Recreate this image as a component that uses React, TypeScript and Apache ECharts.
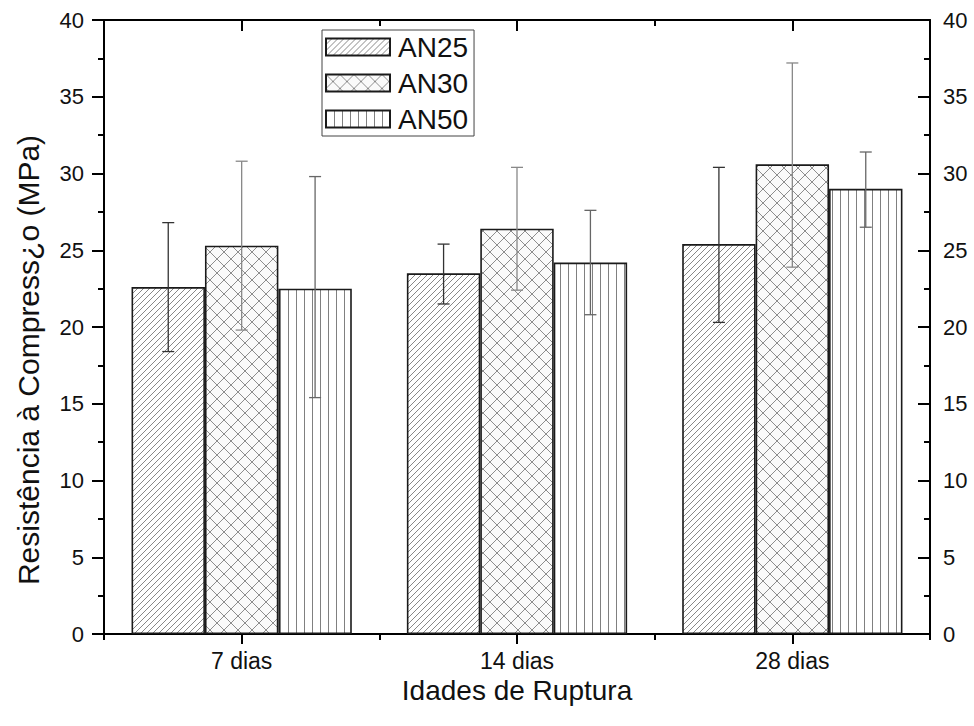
import React, { useEffect, useRef } from "react";
import * as echarts from "echarts";

const categories = ["7 dias", "14 dias", "28 dias"];
const seriesNames = ["AN25", "AN30", "AN50"];
const an25 = [22.6, 23.5, 25.4];
const an30 = [25.3, 26.4, 30.6];
const an50 = [22.5, 24.2, 29.0];
const an25Low = [18.4, 21.5, 20.3];
const an25High = [26.8, 25.4, 30.4];
const an30Low = [19.8, 22.4, 23.9];
const an30High = [30.8, 30.4, 37.2];
const an50Low = [15.4, 20.8, 26.5];
const an50High = [29.8, 27.6, 31.4];
const yTicks = [0, 5, 10, 15, 20, 25, 30, 35, 40];

const FONT = "'Liberation Sans', Arial, sans-serif";

function makePattern(kind: string) {
  const c = document.createElement("canvas");
  let w = 6, h = 6;
  if (kind === "cross") { w = 14; h = 14; }
  if (kind === "vert") { w = 8; h = 8; }
  c.width = w; c.height = h;
  const ctx = c.getContext("2d")!;
  ctx.fillStyle = "#ffffff";
  ctx.fillRect(0, 0, w, h);
  ctx.lineWidth = 0.9;
  if (kind === "diag") {
    ctx.strokeStyle = "#7a7a7a";
    ctx.beginPath();
    ctx.moveTo(-1, h + 1); ctx.lineTo(w + 1, -1);
    ctx.moveTo(-2, 1); ctx.lineTo(1, -2);
    ctx.moveTo(w - 1, h + 2); ctx.lineTo(w + 2, h - 1);
    ctx.stroke();
  } else if (kind === "cross") {
    ctx.fillStyle = "#fafafa";
    ctx.fillRect(0, 0, w, h);
    ctx.strokeStyle = "#808080";
    ctx.beginPath();
    ctx.moveTo(-1, -1); ctx.lineTo(w + 1, h + 1);
    ctx.moveTo(-1, h + 1); ctx.lineTo(w + 1, -1);
    ctx.stroke();
  } else {
    ctx.fillStyle = "#808080";
    ctx.fillRect(0, 0, 1, h);
  }
  return { image: c, repeat: "repeat", imageWidth: w, imageHeight: h } as any;
}

export default function App() {
  const ref = useRef<HTMLDivElement>(null);
  useEffect(() => {
    if (!ref.current) return;
    const chart = echarts.init(ref.current, undefined, { renderer: "svg" });
    const values = [an25, an30, an50];
    const lows = [an25Low, an30Low, an50Low];
    const highs = [an25High, an30High, an50High];
    const patterns = [makePattern("diag"), makePattern("cross"), makePattern("vert")];
    const errColors = ["#333333", "#888888", "#666666"];

    const barSeries = seriesNames.map((name, k) => ({
      name,
      type: "bar",
      xAxisIndex: 0,
      yAxisIndex: 0,
      data: values[k],
      barGap: "0%",
      barCategoryGap: "20%",
      itemStyle: { color: patterns[k], borderColor: "#1a1a1a", borderWidth: 1.6 },
      emphasis: { disabled: true },
      z: 2,
    }));

    const errSeries = seriesNames.map((name, k) => ({
      name: name + " erro",
      type: "custom",
      xAxisIndex: 0,
      yAxisIndex: 0,
      z: 5,
      encode: { x: 0, y: [1, 2] },
      data: categories.map((_, i) => [i, lows[k][i], highs[k][i]]),
      renderItem: (params: any, api: any) => {
        const xi = api.value(0);
        const lo = api.coord([xi, api.value(1)]);
        const hi = api.coord([xi, api.value(2)]);
        const band = api.size([1, 0])[0];
        const bw = (band * 0.8) / 3;
        const x = lo[0] + (k - 1) * bw;
        const cap = 6;
        const style = { stroke: errColors[k], lineWidth: 1.3 };
        return {
          type: "group",
          children: [
            { type: "line", shape: { x1: x, y1: hi[1], x2: x, y2: lo[1] }, style },
            { type: "line", shape: { x1: x - cap, y1: hi[1], x2: x + cap, y2: hi[1] }, style },
            { type: "line", shape: { x1: x - cap, y1: lo[1], x2: x + cap, y2: lo[1] }, style },
          ],
        };
      },
    }));

    const axisLine = { show: true, lineStyle: { color: "#000", width: 2 } };
    const tickLine = { color: "#000", width: 2 };

    chart.setOption({
      animation: false,
      backgroundColor: "#ffffff",
      textStyle: { fontFamily: FONT },
      grid: { left: 104, right: 44, top: 20, bottom: 92 },
      legend: {
        data: seriesNames,
        orient: "vertical",
        left: 322,
        top: 30,
        icon: "rect",
        itemWidth: 64,
        itemHeight: 17,
        itemGap: 8,
        borderColor: "#444",
        borderWidth: 1,
        padding: [3, 6, 3, 3],
        textStyle: { fontSize: 28, lineHeight: 28, color: "#111", fontFamily: FONT, padding: [0, 0, 0, 3] },
      },
      xAxis: [
        {
          type: "category",
          data: categories,
          position: "bottom",
          axisLine,
          axisTick: { show: true, alignWithLabel: true, length: 10, lineStyle: tickLine },
          axisLabel: { fontSize: 23, margin: 15, color: "#111", fontFamily: FONT },
          name: "Idades de Ruptura",
          nameLocation: "middle",
          nameGap: 42,
          nameTextStyle: { fontSize: 28, color: "#111", fontFamily: FONT },
          splitLine: { show: false },
        },
        {
          type: "category",
          data: categories,
          position: "bottom",
          axisLine: { show: false },
          axisTick: { show: true, alignWithLabel: false, length: 6, lineStyle: tickLine },
          axisLabel: { show: false },
          splitLine: { show: false },
        },
        {
          type: "category",
          data: categories,
          position: "top",
          axisLine,
          axisTick: { show: true, inside: true, alignWithLabel: true, length: 11, lineStyle: tickLine },
          axisLabel: { show: false },
          splitLine: { show: false },
        },
        {
          type: "category",
          data: categories,
          position: "top",
          axisLine: { show: false },
          axisTick: { show: true, inside: true, alignWithLabel: false, length: 6, lineStyle: tickLine },
          axisLabel: { show: false },
          splitLine: { show: false },
        },
      ],
      yAxis: [
        {
          type: "value",
          position: "left",
          min: yTicks[0],
          max: yTicks[yTicks.length - 1],
          interval: 5,
          axisLine,
          axisTick: { show: true, length: 12, lineStyle: tickLine },
          minorTick: { show: true, splitNumber: 2, length: 6, lineStyle: tickLine },
          axisLabel: { fontSize: 22, margin: 20, color: "#111", fontFamily: FONT },
          splitLine: { show: false },
        },
        {
          type: "value",
          position: "right",
          min: yTicks[0],
          max: yTicks[yTicks.length - 1],
          interval: 5,
          axisLine,
          axisTick: { show: true, inside: true, length: 12, lineStyle: tickLine },
          minorTick: { show: true, splitNumber: 2, length: 6, lineStyle: tickLine },
          axisLabel: { fontSize: 22, margin: 13, color: "#111", fontFamily: FONT },
          splitLine: { show: false },
        },
      ],
      graphic: [
        {
          type: "text",
          x: 28,
          y: 360,
          rotation: Math.PI / 2,
          style: {
            text: "Resistência à Compress¿o (MPa)",
            fontSize: 30,
            fontFamily: FONT,
            fill: "#111",
            align: "center",
            verticalAlign: "middle",
          },
        },
      ],
      series: [...barSeries, ...errSeries],
    });
    return () => chart.dispose();
  }, []);
  return (
    <div
      ref={ref}
      style={{ position: "fixed", left: 0, top: 0, width: 974, height: 726, background: "#fff" }}
    />
  );
}
